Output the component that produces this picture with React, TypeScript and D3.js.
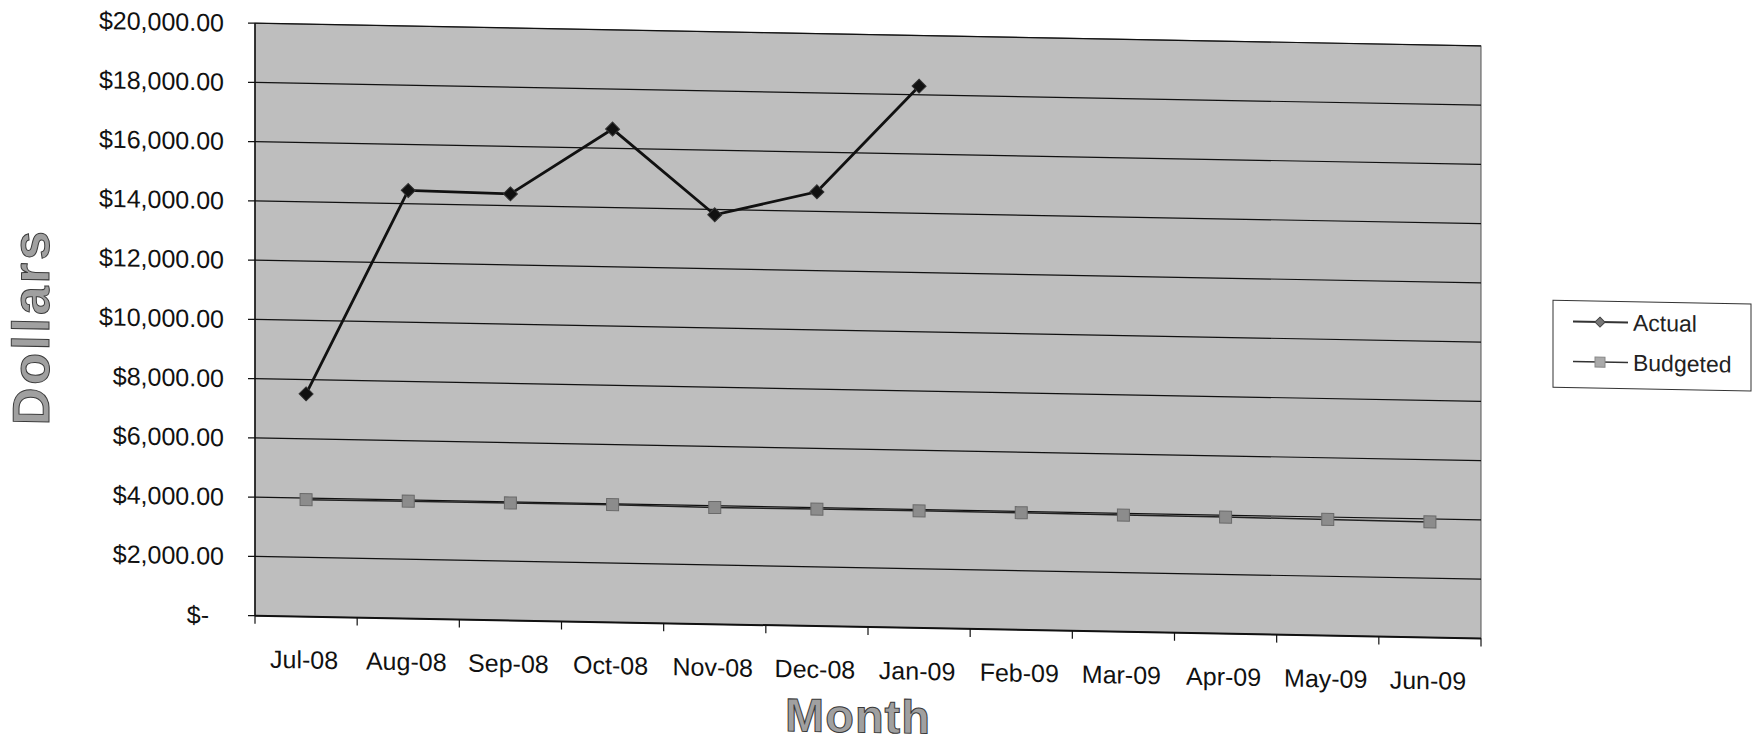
import React from "react";
import * as d3 from "d3";

const months: string[] = [
  "Jul-08", "Aug-08", "Sep-08", "Oct-08", "Nov-08", "Dec-08",
  "Jan-09", "Feb-09", "Mar-09", "Apr-09", "May-09", "Jun-09",
];
const actual: (number | null)[] = [7520, 14450, 14400, 16650, 13820, 14660, 18290, null, null, null, null, null];
const budgeted: number[] = [3950, 3960, 3965, 3970, 3940, 3950, 3955, 3955, 3940, 3935, 3920, 3900];
const yTicks: number[] = [0, 2000, 4000, 6000, 8000, 10000, 12000, 14000, 16000, 18000, 20000];
const seriesNames: string[] = ["Actual", "Budgeted"];

const W = 1760;
const H = 745;
const plotLeft = 255;
const plotRight = 1481;
const plotTop = 18.5;
const plotBottom = 611;
const FONT = "'Liberation Sans', Arial, sans-serif";

export default function App() {
  const x = d3.scaleBand<string>().domain(months).range([plotLeft, plotRight]).padding(0);
  const y = d3.scaleLinear().domain([0, 20000]).range([plotBottom, plotTop]);
  const cx = (m: string) => (x(m) as number) + x.bandwidth() / 2;
  const fmt = d3.format("$,.2f");

  const actualPts = months.map((m, i) => ({ m, v: actual[i] }));
  const budgetPts = months.map((m, i) => ({ m, v: budgeted[i] }));

  const lineA = d3
    .line<{ m: string; v: number | null }>()
    .defined((d) => d.v !== null)
    .x((d) => cx(d.m))
    .y((d) => y(d.v as number));
  const lineB = d3
    .line<{ m: string; v: number }>()
    .x((d) => cx(d.m))
    .y((d) => y(d.v));

  const diamond = (px: number, py: number, r: number) =>
    `M${px},${py - r}L${px + r},${py}L${px},${py + r}L${px - r},${py}Z`;

  const legX = 1553;
  const legY = 271.5;

  return (
    <svg
      width={W}
      height={H}
      style={{ position: "absolute", left: 0, top: 0, background: "#fff" }}
      fontFamily={FONT}
    >
      <rect x={0} y={0} width={W} height={H} fill="#fff" />
      <g transform="skewY(1.06)">
        {/* plot area */}
        <rect
          x={plotLeft}
          y={plotTop}
          width={plotRight - plotLeft}
          height={plotBottom - plotTop}
          fill="#bebebe"
          stroke="#555"
          strokeWidth={1}
        />
        {/* gridlines */}
        {yTicks
          .filter((t) => t > 0)
          .map((t) => (
            <line
              key={"g" + t}
              x1={plotLeft}
              x2={plotRight}
              y1={y(t)}
              y2={y(t)}
              stroke="#111"
              strokeWidth={1.2}
            />
          ))}
        {/* y axis */}
        <line x1={plotLeft} x2={plotLeft} y1={plotTop} y2={plotBottom} stroke="#111" strokeWidth={1.5} />
        {yTicks.map((t) => (
          <g key={"yt" + t}>
            <line x1={plotLeft - 7} x2={plotLeft} y1={y(t)} y2={y(t)} stroke="#111" strokeWidth={1.2} />
            <text
              x={t === 0 ? 209 : 224}
              y={y(t)}
              dy="0.35em"
              textAnchor="end"
              fontSize={25}
              fill="#111"
            >
              {t === 0 ? "$-" : fmt(t)}
            </text>
          </g>
        ))}
        {/* x axis */}
        <line x1={plotLeft} x2={plotRight} y1={plotBottom} y2={plotBottom} stroke="#111" strokeWidth={2} />
        {months.map((m) => (
          <line
            key={"xt" + m}
            x1={x(m) as number}
            x2={x(m) as number}
            y1={plotBottom}
            y2={plotBottom + 8}
            stroke="#111"
            strokeWidth={1.2}
          />
        ))}
        <line x1={plotRight} x2={plotRight} y1={plotBottom} y2={plotBottom + 8} stroke="#111" strokeWidth={1.2} />
        {months.map((m) => (
          <text key={"xl" + m} x={cx(m) - 2} y={654} dy="0.35em" textAnchor="middle" fontSize={25} fill="#111">
            {m}
          </text>
        ))}
        {/* budgeted series */}
        <path d={lineB(budgetPts) || ""} fill="none" stroke="#222" strokeWidth={1.5} />
        {budgetPts.map((d) => (
          <rect
            key={"b" + d.m}
            x={cx(d.m) - 6}
            y={y(d.v) - 6}
            width={12}
            height={12}
            fill="#8c8c8c"
            stroke="#6a6a6a"
            strokeWidth={1}
          />
        ))}
        {/* actual series */}
        <path d={lineA(actualPts) || ""} fill="none" stroke="#111" strokeWidth={2.8} />
        {actualPts
          .filter((d) => d.v !== null)
          .map((d) => (
            <path key={"a" + d.m} d={diamond(cx(d.m), y(d.v as number), 7)} fill="#111" stroke="#333" strokeWidth={1} />
          ))}
        {/* axis titles */}
        <text
          x={31}
          y={326}
          dy="0.35em"
          transform="rotate(-90, 31, 326)"
          textAnchor="middle"
          fontSize={52}
          letterSpacing={3}
          fontWeight="bold"
          fill="#a0a0a0"
          stroke="#3a3a3a"
          strokeWidth={1}
        >
          Dollars
        </text>
        <text
          x={858}
          y={700}
          dy="0.35em"
          textAnchor="middle"
          fontSize={47}
          letterSpacing={1}
          fontWeight="bold"
          fill="#a0a0a0"
          stroke="#3a3a3a"
          strokeWidth={1}
        >
          Month
        </text>
        {/* legend */}
        <rect x={legX} y={legY} width={198} height={87} fill="#fff" stroke="#333" strokeWidth={1} />
        {seriesNames.map((name, i) => {
          const ly = legY + 21 + i * 40;
          return (
            <g key={"leg" + name}>
              <line x1={legX + 20} x2={legX + 75} y1={ly} y2={ly} stroke="#333" strokeWidth={i === 0 ? 2 : 1.5} />
              {i === 0 ? (
                <path d={diamond(legX + 47, ly, 5)} fill="#777" stroke="#444" strokeWidth={1} />
              ) : (
                <rect x={legX + 42} y={ly - 5} width={10} height={10} fill="#aaa" stroke="#888" strokeWidth={1} />
              )}
              <text x={legX + 80} y={ly} dy="0.35em" fontSize={23} fill="#222">
                {name}
              </text>
            </g>
          );
        })}
      </g>
    </svg>
  );
}
